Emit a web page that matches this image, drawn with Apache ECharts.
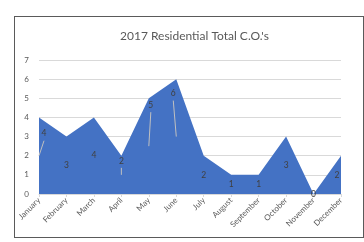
<!DOCTYPE html>
<html>
<head>
<meta charset="utf-8">
<script src="https://cdn.jsdelivr.net/npm/echarts@6/dist/echarts.min.js"></script>
<style>
  html, body { margin: 0; padding: 0; background: #fff; }
  #chart { width: 364px; height: 242px; }
  #frame { position: absolute; left: 14px; top: 16px; width: 348px; height: 220px;
           border: 1px solid #5a5a5a; border-right-width: 2px; pointer-events: none; }
</style>
</head>
<body>
<div id="chart"></div>
<div id="frame"></div>
<script>
var months = ['January', 'February', 'March', 'April', 'May', 'June', 'July',
              'August', 'September', 'October', 'November', 'December'];
var totals = [4, 3, 4, 2, 5, 6, 2, 1, 1, 3, 0, 2];
var yTicks = [0, 1, 2, 3, 4, 5, 6, 7];

// labels that were dragged off their default spot (pixels)
var labelShift = [[5, -22], [0, 0], [0, 0], [0, -14], [2, -41], [-3, -43],
                  [0, 0], [0, 0], [0, 0], [0, 0], [0, 0], [-4, 0]];

var chart = echarts.init(document.getElementById('chart'));

// default data label spot: halfway up the area at each month
function anchorOf(i) {
    return chart.convertToPixel({ seriesIndex: 0 }, [i, totals[i] / 2]);
}

chart.setOption({
    animation: false,
    title: {
        text: '2017 Residential Total C.O.\'s',
        left: 115,
        top: 25,
        textStyle: { fontFamily: 'Lato', fontSize: 12, fontWeight: 'normal', color: '#595959' }
    },
    grid: { left: 39, right: 23, top: 60, bottom: 48 },
    xAxis: {
        type: 'category',
        data: months,
        boundaryGap: false,
        axisLine: { lineStyle: { color: '#d9d9d9' } },
        axisTick: { show: true, length: 3, lineStyle: { color: '#d9d9d9' } },
        axisLabel: { rotate: 45, interval: 0, fontFamily: 'Lato', fontSize: 8, color: '#595959', margin: 5 }
    },
    yAxis: {
        type: 'value',
        min: yTicks[0],
        max: yTicks[yTicks.length - 1],
        interval: 1,
        axisLine: { show: false },
        axisTick: { show: false },
        splitLine: { lineStyle: { color: '#d9d9d9' } },
        axisLabel: { fontFamily: 'Lato', fontSize: 8, color: '#595959', margin: 10 }
    },
    series: [{
        type: 'line',
        data: totals,
        symbol: 'circle',
        symbolSize: 1,
        showSymbol: true,
        showAllSymbol: true,
        itemStyle: { color: 'rgba(0,0,0,0)' },
        lineStyle: { width: 0 },
        areaStyle: { color: '#4472c4', opacity: 1 },
        label: {
            show: true,
            fontFamily: 'Lato',
            fontSize: 8.5,
            color: '#404040'
        },
        labelLine: { show: false },
        labelLayout: function (params) {
            var i = params.dataIndex;
            var a = anchorOf(i);
            return { x: a[0] + labelShift[i][0], y: a[1] + labelShift[i][1],
                     align: 'center', verticalAlign: 'middle' };
        }
    }]
});

// leader lines for the moved labels
var leaders = [];
for (var i = 0; i < totals.length; i++) {
    if (labelShift[i][1] === 0) continue;
    var a = anchorOf(i);
    leaders.push({
        type: 'line',
        silent: true,
        z: 100,
        shape: { x1: a[0] + labelShift[i][0], y1: a[1] + labelShift[i][1] + 7, x2: a[0], y2: a[1] },
        style: { stroke: '#c0c0c0', lineWidth: 1 }
    });
}
chart.setOption({ graphic: { elements: leaders } });
</script>
</body>
</html>
